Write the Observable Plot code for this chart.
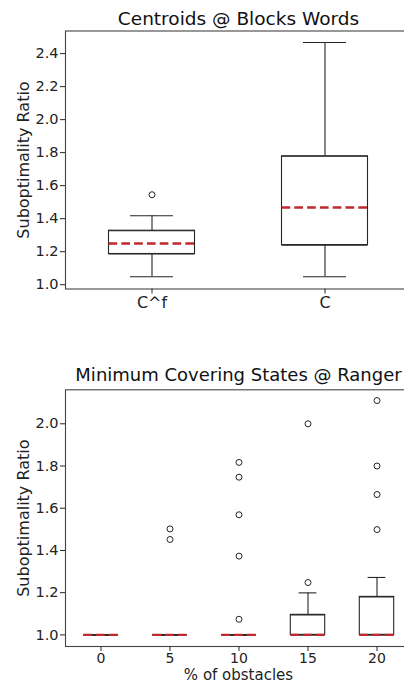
<!DOCTYPE html>
<html><head><meta charset="utf-8">
<script src="https://cdn.jsdelivr.net/npm/d3@7"></script>
<script src="https://cdn.jsdelivr.net/npm/@observablehq/plot@0.6"></script>
<style>
html,body{margin:0;padding:0;background:#fff;overflow:hidden;width:404px;height:683px;}
#wrap{position:relative;width:404px;height:683px;overflow:hidden;}
#top,#bot{position:absolute;left:0;width:420px;}
#top{top:0px}
#bot{top:350px}
svg{max-width:none !important;display:block;}
</style></head><body><div id="wrap"><div id="top"></div><div id="bot"></div></div>
<script>
// ---- Top chart: Centroids @ Blocks Words ----
const topTitle = "Centroids @ Blocks Words";
const topCategories = ["C^f", "C"];
const topLow = [1.048, 1.048];
const topQ1 = [1.186, 1.240];
const topMedian = [1.250, 1.468];
const topQ3 = [1.327, 1.778];
const topHigh = [1.418, 2.467];
const topOutlierCat = ["C^f"];
const topOutlierVal = [1.545];
const topYTicks = [1.0, 1.2, 1.4, 1.6, 1.8, 2.0, 2.2, 2.4];

// ---- Bottom chart: Minimum Covering States @ Ranger ----
const botTitle = "Minimum Covering States @ Ranger";
const botCategories = ["0", "5", "10", "15", "20"];
const botLow = [1.0, 1.0, 1.0, 1.0, 1.0];
const botQ1 = [1.0, 1.0, 1.0, 1.0, 1.0];
const botMedian = [1.0, 1.0, 1.0, 1.0, 1.0];
const botQ3 = [1.0, 1.0, 1.0, 1.095, 1.18];
const botHigh = [1.0, 1.0, 1.0, 1.199, 1.272];
const botOutlierCat = ["5", "5", "10", "10", "10", "10", "10", "15", "15", "20", "20", "20", "20"];
const botOutlierVal = [1.502, 1.452, 1.817, 1.747, 1.569, 1.373, 1.074, 1.248, 2.0, 1.499, 1.665, 1.80, 2.11];
const botYTicks = [1.0, 1.2, 1.4, 1.6, 1.8, 2.0];
const yLabel = "Suboptimality Ratio";
const botXLabel = "% of obstacles";

const FONT = "'DejaVu Sans', sans-serif";
const INK = "#262626";
const RED = "#c0282d";

function boxChart(o) {
  const rows = o.cats.map((c, i) => ({cat: c, low: o.low[i], q1: o.q1[i], med: o.med[i], q3: o.q3[i], high: o.high[i]}));
  const outs = o.outCat.map((c, i) => ({cat: c, v: o.outVal[i]}));
  const marks = [
    Plot.ruleX(rows, {x: "cat", y1: "q3", y2: "high", stroke: INK, strokeWidth: 1.1}),
    Plot.ruleX(rows, {x: "cat", y1: "low", y2: "q1", stroke: INK, strokeWidth: 1.1}),
    Plot.tickY(rows, {x: "cat", y: "high", stroke: INK, strokeWidth: 1.1, insetLeft: o.capInset, insetRight: o.capInset}),
    Plot.tickY(rows, {x: "cat", y: "low", stroke: INK, strokeWidth: 1.1, insetLeft: o.capInset, insetRight: o.capInset}),
    Plot.barY(rows, {x: "cat", y1: "q1", y2: "q3", fill: "white", stroke: INK, strokeWidth: 1.1, insetLeft: o.boxInset, insetRight: o.boxInset}),
    Plot.tickY(rows, {x: "cat", y: "q1", stroke: INK, strokeWidth: 1.1, insetLeft: o.boxInset, insetRight: o.boxInset}),
    Plot.tickY(rows, {x: "cat", y: "q3", stroke: INK, strokeWidth: 1.1, insetLeft: o.boxInset, insetRight: o.boxInset}),
    Plot.tickY(rows, {x: "cat", y: "med", stroke: RED, strokeWidth: o.medWidth, strokeDasharray: "8.7,4.1", insetLeft: o.boxInset, insetRight: o.boxInset}),
    Plot.dot(outs, {x: "cat", y: "v", r: 3, stroke: INK, strokeWidth: 1, fill: "none"}),
    Plot.frame({stroke: "#444", strokeWidth: 1.1}),
    Plot.axisY({ticks: o.yticks, tickFormat: d3.format(".1f"), tickSize: 5, tickPadding: 2, fontSize: o.yFont, label: null, stroke: INK, fill: "#222"}),
    Plot.axisX({tickSize: 5, tickPadding: o.xPad, fontSize: o.xFont, label: null, stroke: INK, fill: "#222"}),
    Plot.text([o.title], {text: d => d, frameAnchor: "top", textAnchor: "middle", lineAnchor: "bottom", dy: o.titleDy, fontSize: o.titleFont, fill: "#111"}),
    Plot.text([yLabel], {text: d => d, frameAnchor: "left", textAnchor: "middle", lineAnchor: "middle", rotate: -90, dx: -42, fontSize: 16, fill: "#222"})
  ];
  if (o.xLabel) marks.push(Plot.text([o.xLabel], {text: d => d, frameAnchor: "bottom", textAnchor: "middle", lineAnchor: "bottom", dy: o.xLabelDy, fontSize: 15, fill: "#222"}));
  return Plot.plot({
    width: 420, height: o.height,
    marginLeft: 65, marginRight: 9, marginTop: o.mt, marginBottom: o.mb,
    style: {fontFamily: FONT, background: "white", overflow: "visible", maxWidth: "none"},
    x: {type: "band", domain: o.cats, padding: 0, label: null},
    y: {domain: o.ydom, label: null},
    marks
  });
}

document.getElementById("top").append(boxChart({
  cats: topCategories, low: topLow, q1: topQ1, med: topMedian, q3: topQ3, high: topHigh,
  outCat: topOutlierCat, outVal: topOutlierVal, yticks: topYTicks,
  ydom: [0.974, 2.537], height: 329, mt: 30.5, mb: 40.5,
  boxInset: 43.5, capInset: 65, medWidth: 2.5, yFont: 14.5, xFont: 16, xPad: 3,
  title: topTitle, titleDy: -6.5, titleFont: 18.5
}));

document.getElementById("bot").append(boxChart({
  cats: botCategories, low: botLow, q1: botQ1, med: botMedian, q3: botQ3, high: botHigh,
  outCat: botOutlierCat, outVal: botOutlierVal, yticks: botYTicks,
  ydom: [0.945, 2.161], height: 333, mt: 39.3, mb: 37,
  boxInset: 17.3, capInset: 25.6, medWidth: 2.2, yFont: 14.5, xFont: 14, xPad: 2,
  title: botTitle, titleDy: -8.6, titleFont: 18, xLabel: botXLabel, xLabelDy: 33
}));
</script></body></html>
